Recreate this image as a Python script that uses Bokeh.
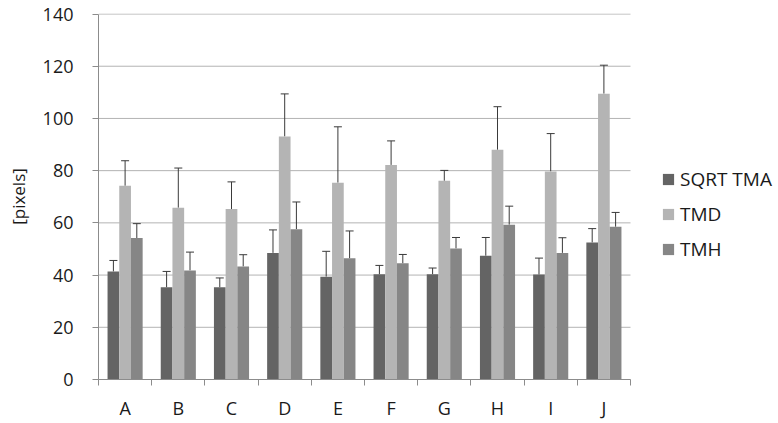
from bokeh.plotting import figure
from bokeh.models import (ColumnDataSource, Range1d, FixedTicker, Whisker, TeeHead,
                          Legend, LegendItem)
from bokeh.embed import file_html
from bokeh.resources import INLINE

categories = ["A", "B", "C", "D", "E", "F", "G", "H", "I", "J"]
series_names = ["SQRT TMA", "TMD", "TMH"]
sqrt_tma = [41.4, 35.3, 35.3, 48.5, 39.4, 40.3, 40.3, 47.4, 40.2, 52.5]
sqrt_tma_err = [4.2, 6.1, 3.6, 8.8, 9.7, 3.4, 2.4, 7.0, 6.3, 5.3]
tmd = [74.2, 65.8, 65.3, 93.1, 75.4, 82.2, 76.1, 88.0, 79.7, 109.5]
tmd_err = [9.6, 15.2, 10.4, 16.3, 21.4, 9.2, 4.0, 16.5, 14.5, 10.9]
tmh = [54.2, 41.8, 43.3, 57.6, 46.4, 44.5, 50.2, 59.3, 48.5, 58.5]
tmh_err = [5.5, 7.0, 4.5, 10.4, 10.5, 3.4, 4.2, 7.1, 5.8, 5.5]
y_ticks = [0, 20, 40, 60, 80, 100, 120, 140]

colors = ["#646464", "#b4b4b4", "#868686"]
offsets = [-0.22, 0.0, 0.22]
bar_w = 0.22
FONT = "Open Sans"
TXT = "#1a1a1a"
AXIS_C = "#8c8c8c"

n = len(categories)
# the frame also spans the legend area on the right (532 px of bars, 148 px legend)
x_end = n * 680 / 532

p = figure(width=778, height=423, output_backend="svg", toolbar_location=None,
           x_range=Range1d(0, x_end), y_range=Range1d(0, 140.2),
           min_border_left=98, min_border_right=0, min_border_top=13,
           min_border_bottom=44)
p.outline_line_color = None
p.xgrid.grid_line_color = None
p.ygrid.grid_line_color = None

# horizontal grid lines, only across the category area
p.segment(x0=[0] * len(y_ticks), x1=[n] * len(y_ticks), y0=y_ticks, y1=y_ticks,
          line_color="#b3b3b3", line_width=1, level="underlay")

# axes
centers = [i + 0.5 for i in range(n)]
p.xaxis.bounds = (0, n)
p.xaxis.ticker = FixedTicker(ticks=centers, minor_ticks=list(range(n + 1)))
p.xaxis.major_label_overrides = {c: lab for c, lab in zip(centers, categories)}
p.xaxis.major_tick_line_color = None
p.xaxis.major_tick_out = 0
p.xaxis.major_tick_in = 0
p.xaxis.minor_tick_in = 0
p.xaxis.minor_tick_out = 6
p.xaxis.minor_tick_line_color = AXIS_C
p.xaxis.axis_line_color = AXIS_C
p.xaxis.major_label_standoff = 10
p.xaxis.major_label_text_font = FONT
p.xaxis.major_label_text_font_size = "18px"
p.xaxis.major_label_text_color = TXT

p.yaxis.bounds = (0, 140)
p.yaxis.ticker = FixedTicker(ticks=y_ticks, minor_ticks=[])
p.yaxis.major_tick_in = 0
p.yaxis.major_tick_out = 6
p.yaxis.major_tick_line_color = AXIS_C
p.yaxis.axis_line_color = AXIS_C
p.yaxis.major_label_standoff = 19
p.yaxis.major_label_text_font = FONT
p.yaxis.major_label_text_font_size = "18px"
p.yaxis.major_label_text_color = TXT
p.yaxis.axis_label = "[pixels]"
p.yaxis.axis_label_text_font = FONT
p.yaxis.axis_label_text_font_style = "normal"
p.yaxis.axis_label_text_font_size = "17px"
p.yaxis.axis_label_text_color = TXT
p.yaxis.axis_label_standoff = 10

values = [sqrt_tma, tmd, tmh]
errors = [sqrt_tma_err, tmd_err, tmh_err]
items = []
for name, vals, errs, col, off in zip(series_names, values, errors, colors, offsets):
    src = ColumnDataSource(dict(
        x=[c + off for c in centers],
        top=vals,
        hi=[v + e for v, e in zip(vals, errs)],
    ))
    r = p.vbar(x="x", top="top", bottom=0, width=bar_w, source=src,
               fill_color=col, line_color=None)
    w = Whisker(base="x", lower="top", upper="hi", source=src,
                line_color="#3a3a3a", line_width=1,
                upper_head=TeeHead(size=8, line_color="#3a3a3a", line_width=1),
                lower_head=None)
    p.add_layout(w)
    items.append(LegendItem(label=name, renderers=[r]))

legend = Legend(items=items, location=(563, 117), orientation="vertical",
                glyph_width=14, glyph_height=14, label_height=27, spacing=8,
                label_standoff=5, padding=0, margin=0,
                border_line_color=None, background_fill_alpha=0,
                label_text_font=FONT, label_text_font_size="19px",
                label_text_color=TXT)
p.add_layout(legend)

open("out.html", "w").write(file_html(p, INLINE))
